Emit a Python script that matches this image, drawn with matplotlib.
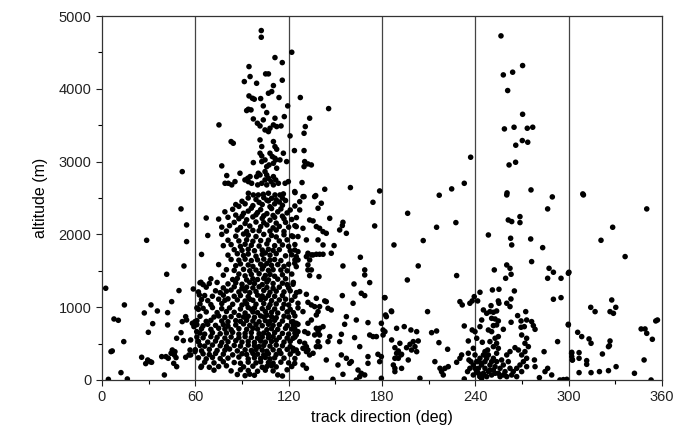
import numpy as np
import matplotlib
matplotlib.use('Agg')
import matplotlib.pyplot as plt

plt.rcParams['font.family'] = ['Liberation Sans', 'DejaVu Sans']

# (track direction deg, altitude m)
sector_0_60 = [
    (51.6, 2862), (50.8, 2350), (54.4, 2130), (28.7, 1919), (54.4, 1901), (52.7, 1566),
    (41.6, 1452), (2.4, 1260), (49.5, 1228), (58.7, 1250), (63.6, 1342), (62.6, 1168),
    (44.8, 1076), (14.4, 1031), (31.5, 1031), (27.2, 921), (35.6, 948), (42.2, 925),
    (7.7, 838), (10.5, 820), (53.8, 870), (51.6, 802), (54.4, 824), (32.6, 774),
    (42.2, 756), (29.8, 655), (50.8, 650), (48.0, 573), (52.3, 541), (14.0, 527),
    (57.0, 550), (58.1, 779), (59.1, 733), (6.6, 399), (5.8, 390), (45.2, 412),
    (46.9, 389), (44.4, 367), (46.5, 344), (47.6, 307), (46.1, 229), (48.0, 183),
    (41.1, 321), (38.4, 321), (42.6, 298), (25.5, 312), (29.4, 275), (30.9, 252),
    (31.9, 243), (28.1, 225), (53.8, 312), (56.6, 412), (55.9, 344), (57.0, 344),
    (40.1, 69), (12.2, 101), (4.1, 9), (16.3, 14), (63.6, 174), (59.8, 802),
    (60.9, 664), (61.9, 527), (59.8, 390), (75.2, 3504), (77.0, 2941),
]

sector_60_120_high = [
    (102.4, 4800), (102.4, 4708), (122.0, 4502), (111.2, 4429), (115.9, 4360), (94.5, 4305),
    (105.2, 4205), (107.0, 4205), (95.2, 4168), (91.5, 4099), (99.4, 4076), (115.9, 4118),
    (110.2, 4044), (109.1, 3962), (127.5, 3880), (94.5, 3902), (96.7, 3870), (97.9, 3857),
    (102.0, 3866), (107.0, 3939), (113.8, 3880), (103.7, 3765), (119.4, 3765), (93.0, 3701),
    (94.1, 3719), (95.8, 3710), (105.9, 3673), (97.3, 3586), (99.9, 3527), (101.6, 3490),
    (111.2, 3596), (103.7, 3573), (117.2, 3618), (110.2, 3504), (108.0, 3458), (112.3, 3481),
    (115.1, 3490), (104.8, 3435), (107.0, 3412), (120.9, 3353), (83.0, 3275), (84.4, 3252),
    (101.6, 3298), (102.7, 3206), (110.2, 3275), (111.2, 3206), (112.3, 3170), (123.7, 3151),
    (101.6, 3115), (102.7, 3078), (108.0, 3115), (109.5, 3069), (111.2, 3046), (116.6, 3115),
    (97.3, 2986), (102.7, 3000), (104.8, 3023), (110.2, 2977), (111.7, 3023), (114.4, 3023),
    (118.7, 3000), (105.9, 2931), (107.4, 2954), (112.3, 2909), (80.2, 2808), (88.7, 2840),
    (93.7, 2771), (95.2, 2794), (100.5, 2840), (99.4, 2794), (101.6, 2817), (104.8, 2863),
    (105.9, 2817), (104.8, 2748), (107.0, 2771), (110.2, 2794), (111.7, 2748), (108.7, 2725),
    (119.8, 2725), (79.1, 2702), (81.2, 2702), (85.5, 2725), (83.4, 2680), (91.9, 2748),
    (94.1, 2725), (96.2, 2702), (100.1, 2680), (102.7, 2702), (105.9, 2680), (110.2, 2680),
    (113.4, 2702), (117.7, 2702), (124.1, 2574), (94.1, 2565), (97.3, 2542), (100.5, 2542),
    (103.7, 2551), (107.0, 2565), (111.2, 2542), (114.4, 2542), (116.6, 2556),
]

sector_60_120_low = [
    (94, 2500), (99, 2480), (104, 2505), (106, 2470), (109, 2495), (112, 2475), (116, 2500), (118, 2465),
    (86, 2410), (88, 2385), (92, 2420), (97, 2395), (103, 2410), (108, 2380), (111, 2420), (116, 2400), (124, 2390),
    (79, 2310), (91, 2290), (94, 2320), (100, 2300), (106, 2285), (113, 2310), (119, 2295),
    (67, 2225), (75, 2210), (81, 2235), (88, 2215), (93, 2200), (97, 2240), (103, 2220), (108, 2195),
    (111, 2235), (117, 2215), (122, 2205), (125, 2230),
    (77, 2100), (82, 2120), (89, 2095), (95, 2115), (102, 2105), (106, 2130), (110, 2090), (114, 2110),
    (120, 2100), (124, 2120),
    (68, 1985), (77, 2000), (86, 1975), (91, 2005), (94, 1990), (99, 1970), (104, 2000), (109, 1985),
    (112, 1965), (117, 1995), (122, 1980),
    (78, 1845), (83, 1860), (89, 1835), (92, 1865), (96, 1850), (101, 1840), (106, 1870), (111, 1845),
    (116, 1855), (120, 1835), (124, 1860),
    (64, 1725), (81, 1715), (87, 1735), (91, 1710), (94, 1730), (99, 1700), (103, 1725), (105, 1745),
    (108, 1715), (112, 1735), (118, 1705), (122, 1720),
    (75, 1585), (86, 1570), (89, 1595), (94, 1580), (97, 1560), (102, 1590), (104, 1565), (106, 1600),
    (109, 1575), (113, 1585), (117, 1560), (120, 1590),
    (78, 1440), (88, 1455), (92, 1430), (96, 1450), (101, 1460), (105, 1435), (108, 1450), (111, 1425),
    (116, 1445), (122, 1455),
    (63, 1335), (65, 1310), (69, 1325), (74, 1340), (81, 1320), (86, 1335), (90, 1315), (95, 1340),
    (98, 1325), (103, 1310), (106, 1345), (110, 1325), (116, 1330), (119, 1310), (123, 1340),
    (62, 1210), (73, 1225), (76, 1200), (80, 1220), (83, 1235), (88, 1210), (92, 1225), (95, 1200),
    (99, 1215), (104, 1230), (108, 1205), (112, 1220), (117, 1210), (121, 1225), (125, 1200),
    (64, 1105), (68, 1090), (75, 1110), (79, 1095), (81, 1115), (87, 1100), (92, 1085), (95, 1110),
    (97, 1095), (102, 1105), (105, 1120), (109, 1090), (114, 1100), (118, 1110), (122, 1095),
    (61, 990), (62, 970), (65, 985), (71, 995), (77, 980), (82, 990), (89, 975), (94, 995),
    (96, 970), (98, 990), (103, 980), (107, 995), (111, 975), (116, 985), (121, 970), (126, 990),
    (63, 875), (72, 865), (75, 880), (79, 860), (83, 870), (88, 885), (91, 865), (94, 875),
    (98, 860), (102, 880), (104, 865), (106, 890), (109, 870), (112, 855), (117, 875), (120, 865), (124, 880),
    (61, 760), (65, 745), (68, 765), (73, 750), (78, 760), (81, 740), (86, 755), (91, 770),
    (95, 750), (99, 760), (103, 745), (107, 765), (110, 750), (114, 760), (119, 745), (123, 755), (126, 765),
    (63, 645), (66, 630), (71, 650), (76, 635), (80, 645), (84, 655), (88, 630), (92, 640),
    (96, 650), (101, 635), (104, 645), (107, 625), (111, 650), (116, 640), (120, 630), (124, 645),
    (62, 530), (68, 520), (73, 535), (77, 515), (81, 525), (86, 540), (90, 520), (94, 530),
    (98, 515), (102, 535), (105, 520), (109, 530), (112, 545), (117, 520), (121, 530),
    (60, 415), (64, 400), (69, 420), (74, 405), (79, 410), (82, 425), (87, 400), (92, 415),
    (96, 405), (99, 420), (103, 410), (106, 395), (110, 415), (114, 405), (119, 420), (123, 400),
    (62, 305), (67, 290), (71, 310), (76, 295), (81, 300), (88, 315), (94, 290), (98, 305),
    (102, 295), (105, 310), (108, 290), (111, 305), (117, 300), (124, 295),
    (64, 190), (69, 175), (75, 185), (80, 195), (91, 180), (97, 190), (103, 175), (106, 185),
    (109, 195), (112, 180), (122, 185),
    (87, 75), (92, 60), (95, 80), (98, 65), (113, 70), (116, 55),
]

# points sitting between the rows above, in the darkest part of the cluster
sector_60_120_core = [
    (90, 2455), (101, 2440), (107, 2460), (114, 2445),
    (84, 2345), (96, 2360), (102, 2340), (109, 2355), (115, 2350), (121, 2335),
    (86, 2265), (90, 2250), (99, 2270), (104, 2255), (110, 2260), (116, 2250),
    (85, 2165), (92, 2150), (99, 2170), (104, 2160), (112, 2155), (118, 2165),
    (80, 2045), (87, 2060), (93, 2040), (97, 2055), (101, 2050), (108, 2045), (112, 2060), (117, 2040),
    (81, 1920), (88, 1910), (93, 1925), (97, 1905), (102, 1915), (107, 1920), (114, 1910), (119, 1925),
    (85, 1790), (90, 1780), (94, 1795), (98, 1775), (103, 1785), (107, 1795), (110, 1780), (114, 1790), (121, 1775),
    (83, 1655), (88, 1645), (92, 1660), (96, 1640), (100, 1650), (104, 1660), (108, 1645), (111, 1655),
    (115, 1640), (124, 1650),
    (80, 1515), (85, 1505), (91, 1520), (95, 1500), (99, 1510), (103, 1525), (107, 1505), (110, 1515),
    (115, 1510), (119, 1500),
    (70, 1390), (84, 1380), (87, 1395), (93, 1375), (97, 1390), (100, 1380), (104, 1395), (107, 1375),
    (113, 1385), (118, 1390),
    (67, 1275), (78, 1265), (85, 1280), (90, 1260), (93, 1275), (97, 1265), (101, 1280), (106, 1270),
    (110, 1260), (114, 1275), (120, 1265),
    (66, 1160), (71, 1150), (78, 1165), (85, 1150), (89, 1160), (94, 1145), (100, 1165), (103, 1155),
    (107, 1160), (111, 1150), (116, 1160), (124, 1150),
    (63, 1045), (70, 1035), (77, 1050), (84, 1040), (90, 1030), (93, 1045), (99, 1040), (104, 1050),
    (108, 1035), (112, 1045), (117, 1040), (120, 1030),
    (67, 935), (74, 925), (80, 940), (85, 930), (92, 920), (97, 935), (100, 925), (105, 940),
    (109, 930), (113, 920), (119, 935), (123, 925),
    (61, 815), (67, 805), (70, 820), (77, 810), (81, 800), (86, 815), (89, 805), (93, 820),
    (97, 810), (101, 800), (105, 815), (108, 805), (111, 820), (116, 810), (122, 800),
    (64, 705), (70, 695), (75, 710), (79, 700), (83, 690), (88, 705), (93, 695), (97, 710),
    (100, 700), (106, 690), (109, 705), (113, 695), (118, 710), (122, 700),
    (61, 590), (65, 580), (70, 595), (74, 585), (79, 575), (83, 590), (88, 580), (92, 595),
    (96, 585), (100, 575), (103, 590), (107, 580), (110, 595), (114, 585), (119, 575), (124, 590),
    (63, 475), (66, 465), (71, 480), (76, 470), (80, 460), (85, 475), (89, 465), (94, 480),
    (98, 470), (101, 460), (104, 475), (108, 465), (112, 480), (116, 470), (121, 460),
    (65, 360), (69, 350), (73, 365), (78, 355), (84, 345), (90, 360), (93, 350), (97, 365),
    (100, 355), (104, 345), (107, 360), (112, 350), (115, 365), (121, 355),
    (66, 245), (72, 235), (78, 250), (85, 240), (89, 230), (94, 245), (99, 235), (102, 250),
    (107, 240), (110, 230), (115, 245), (120, 235),
    (72, 135), (83, 125), (89, 140), (94, 130), (100, 120), (105, 135), (110, 125), (119, 140),
]

sector_120_180 = [
    (145.7, 3728), (133.5, 3596), (130.7, 3481), (129.9, 3389), (129.9, 3151), (130.3, 3000),
    (129.9, 2931), (132.4, 2968), (134.6, 2954), (128.6, 2712), (123.9, 2588), (129.9, 2519),
    (137.4, 2533), (143.2, 2620), (159.7, 2643), (178.5, 2597),
    (129.2, 2519), (136.7, 2519), (127.1, 2450), (141.0, 2428), (174.2, 2441), (127.1, 2336),
    (138.9, 2359), (175.3, 2116), (146.4, 2221), (133.5, 2198), (135.7, 2185), (154.9, 2166),
    (154.5, 2121), (124.9, 2107), (129.2, 2084), (137.8, 2107), (139.9, 2084), (142.1, 2038),
    (144.2, 2015), (152.8, 2061), (157.1, 2015), (122.8, 1970), (126.0, 1970), (131.4, 1924),
    (138.9, 1924), (142.1, 1855), (149.2, 1846), (123.9, 1786), (126.0, 1763), (124.9, 1695),
    (126.0, 1649), (132.4, 1741), (134.6, 1718), (131.4, 1695), (133.5, 1649), (135.7, 1718),
    (137.8, 1727), (139.9, 1727), (142.1, 1727), (147.4, 1741), (166.1, 1686), (123.9, 1603),
    (124.9, 1557), (132.4, 1580), (134.6, 1512), (132.4, 1512), (154.9, 1566), (168.9, 1512),
    (168.9, 1443), (133.5, 1434), (139.5, 1420), (122.8, 1315), (162.0, 1319), (172.1, 1338),
    (127.1, 1214), (131.4, 1177), (166.7, 1191), (168.9, 1159), (154.5, 1159), (181.7, 1131),
    (137.8, 1122), (143.2, 1086), (144.2, 1076), (126.0, 1054), (132.4, 1067), (134.6, 1031),
    (136.7, 1008), (139.9, 1008), (145.3, 985), (147.4, 962), (161.4, 1054), (129.2, 939),
    (138.9, 939), (137.8, 893), (157.1, 870), (186.0, 948), (182.8, 870), (122.8, 802),
    (124.9, 779), (134.6, 824), (132.4, 779), (156.0, 765), (163.5, 824), (171.0, 788),
    (179.6, 779), (123.9, 710), (126.0, 664), (124.9, 618), (122.8, 573), (127.1, 527),
    (130.3, 664), (132.4, 641), (137.8, 710), (139.9, 710), (142.1, 733), (138.9, 664),
    (136.7, 618), (139.9, 618), (153.9, 628), (162.4, 582), (172.1, 618), (174.2, 596),
    (176.4, 596), (180.7, 687), (180.7, 618), (146.4, 596), (145.3, 527), (152.8, 527),
    (130.3, 504), (131.4, 458), (132.4, 412), (129.2, 435), (131.4, 390), (138.9, 527),
    (137.8, 458), (139.9, 458), (122.8, 435), (124.9, 412), (126.0, 367), (133.5, 344),
    (135.7, 367), (144.2, 275), (153.9, 344), (157.1, 298), (160.3, 252), (159.2, 229),
    (165.7, 458), (171.0, 321), (171.0, 229), (177.4, 353), (179.6, 321), (178.5, 252),
    (123.9, 229), (129.2, 206), (131.4, 160), (151.7, 206), (154.9, 78), (164.6, 137),
    (166.7, 92), (168.9, 69), (165.7, 46), (134.6, 23), (148.5, 9), (163.5, 0), (179.6, 23),
]

sector_180_240 = [
    (237.0, 3060), (232.9, 2702), (224.8, 2625), (216.8, 2538), (196.5, 2290), (227.5, 2162),
    (215.1, 2098), (206.5, 1915), (187.7, 1855), (203.3, 1567), (228.0, 1434), (196.3, 1374),
    (181.9, 1131), (230.1, 1076), (231.6, 1031), (236.5, 1054), (238.0, 1086), (239.3, 1145),
    (186.2, 939), (182.3, 893), (209.3, 939), (189.4, 710), (194.3, 733), (198.6, 687),
    (202.3, 664), (211.9, 650), (215.1, 673), (181.9, 664), (186.2, 550), (191.5, 504),
    (198.0, 490), (200.1, 527), (203.3, 536), (216.6, 513), (232.9, 742), (238.0, 687),
    (188.3, 444), (190.5, 399), (189.4, 367), (192.2, 344), (188.3, 298), (190.5, 298),
    (192.6, 353), (195.8, 444), (199.0, 412), (201.2, 458), (202.3, 389), (196.9, 275),
    (187.3, 206), (188.3, 160), (192.6, 160), (188.3, 115), (222.2, 422), (214.0, 252),
    (228.0, 243), (231.2, 344), (230.1, 298), (217.3, 160), (218.3, 115), (219.4, 69),
    (222.6, 183), (220.5, 160), (235.5, 367), (235.9, 275), (204.4, 23), (232.9, 14),
    (237.2, 252), (238.7, 206), (236.5, 160), (235.5, 536), (238.7, 435), (239.8, 344),
    (241.9, 252), (244.0, 206), (240.8, 115), (245.1, 69), (243.0, 46), (238.7, 69), (235.0, 115),
]

sector_240_300 = [
    (256.5, 4727), (270.4, 4319), (264.0, 4228), (258.0, 4191), (260.8, 3976), (270.4, 3650),
    (258.7, 3449), (264.9, 3472), (273.4, 3458), (276.9, 3472), (270.2, 3289), (273.7, 3266),
    (266.0, 3225), (261.7, 2954), (265.9, 2991), (260.4, 2570), (275.8, 2611), (289.5, 2515),
    (260.2, 2542), (286.5, 2350), (261.2, 2198), (263.4, 2176), (268.7, 2244), (268.7, 2162),
    (248.4, 1992), (262.7, 1947), (263.4, 1855), (275.6, 1937), (283.3, 1818), (276.2, 1626),
    (260.2, 1580), (262.3, 1534), (263.0, 1452), (259.5, 1397), (252.2, 1512), (287.4, 1534),
    (290.2, 1480), (286.5, 1397), (295.1, 1397), (243.0, 1205), (251.0, 1237), (255.2, 1246),
    (265.1, 1223), (241.5, 1086), (254.8, 1086), (255.2, 1054), (262.9, 1113), (260.2, 1054),
    (250.1, 1021), (262.3, 1008), (290.2, 1109), (295.1, 1131), (245.2, 962), (247.3, 916),
    (249.4, 939), (251.6, 930), (253.7, 948), (244.1, 824), (243.0, 733), (250.5, 847),
    (252.7, 838), (254.8, 811), (253.7, 756), (251.6, 747), (248.4, 687), (250.5, 664),
    (258.0, 696), (263.0, 793), (267.2, 884), (272.4, 939), (269.4, 811), (273.0, 824),
    (276.2, 802), (277.3, 747), (278.4, 696), (269.4, 724), (271.5, 733), (269.8, 618),
    (273.0, 573), (271.9, 504), (239.8, 664), (240.9, 573), (244.5, 518), (249.4, 527),
    (252.7, 573), (254.8, 596), (253.7, 504), (251.6, 458),
    (247.9, 412), (245.2, 344), (247.3, 298), (243.0, 298), (240.9, 252), (244.1, 229),
    (242.0, 160), (246.2, 160), (249.4, 206), (248.4, 115), (245.2, 92), (243.0, 46),
    (247.3, 46), (250.5, 69), (254.8, 435), (253.7, 367), (251.6, 298), (253.7, 252),
    (252.7, 183), (255.9, 160), (258.0, 206), (256.9, 275), (260.2, 344), (262.3, 390),
    (261.2, 252), (259.1, 115), (262.3, 160), (263.4, 69), (260.2, 46), (255.9, 46),
    (252.7, 92), (265.5, 444), (267.7, 412), (269.8, 344), (271.9, 390), (274.1, 458),
    (273.0, 298), (270.9, 252), (268.7, 206), (266.6, 160), (273.0, 183), (278.0, 275),
    (278.4, 183), (239.8, 160), (242.0, 92), (244.1, 23), (249.4, 137), (251.6, 137),
    (246.2, 252), (250.5, 252), (254.8, 92), (258.0, 69), (248.4, 344), (264.4, 115),
    (266.6, 46), (269.8, 115), (246.2, 390),
    (284.2, 389), (281.2, 32), (284.8, 115), (286.5, 160), (289.1, 69), (292.9, 527),
    (299.8, 756), (300.2, 1480), (301.9, 367), (302.4, 275), (294.4, 0), (296.6, 5),
]

sector_300_360 = [
    (309.1, 2556), (309.5, 2542), (350.2, 2350), (328.3, 2098), (320.8, 1919), (336.3, 1695),
    (299.8, 1466), (327.7, 1099), (314.2, 998), (317.0, 939), (330.3, 998), (326.6, 939),
    (328.8, 916), (357.1, 824), (356.0, 811), (299.8, 765), (305.8, 655), (308.4, 596),
    (313.1, 564), (314.4, 504), (326.6, 536), (326.2, 472), (325.6, 458), (346.6, 701),
    (349.1, 701), (350.2, 641), (353.8, 559), (302.0, 380), (302.0, 321), (302.4, 275),
    (306.7, 376), (306.7, 298), (311.6, 266), (311.6, 215), (321.7, 357), (330.5, 183),
    (348.5, 275), (306.7, 101), (314.4, 101), (319.8, 115), (325.6, 128), (342.3, 92),
    (353.0, 0), (298.8, 9),
]

x_ticks = [0, 60, 120, 180, 240, 300, 360]
y_ticks = [0, 1000, 2000, 3000, 4000, 5000]

pts = np.array(sector_0_60 + sector_60_120_high + sector_60_120_low + sector_60_120_core
               + sector_120_180 + sector_180_240 + sector_240_300 + sector_300_360, dtype=float)

fig = plt.figure(figsize=(6.91, 4.42), dpi=100)
ax = fig.add_axes([0.1476, 0.1403, 0.8104, 0.8235])

for xv in x_ticks[1:-1]:
    ax.axvline(xv, color='#444444', lw=0.9, zorder=1)

ax.scatter(pts[:, 0], pts[:, 1], s=16, c='black', edgecolors='none', zorder=3)

ax.set_xlim(0, 360)
ax.set_ylim(0, 5000)
ax.set_xticks(x_ticks)
ax.set_xticks(np.arange(0, 361, 30), minor=True)
ax.set_yticks(y_ticks)
ax.set_yticks(np.arange(0, 5001, 500), minor=True)
ax.tick_params(axis='both', which='major', direction='out', length=4, width=0.8, labelsize=10.5, colors='#222222')
ax.tick_params(axis='both', which='minor', direction='out', length=3, width=0.8)
for sp in ax.spines.values():
    sp.set_linewidth(0.9)
    sp.set_color('#333333')

ax.set_xlabel('track direction (deg)', fontsize=11.5, labelpad=4)
ax.set_ylabel('altitude (m)', fontsize=11.5, labelpad=8)

fig.savefig('out.png', dpi=100)
